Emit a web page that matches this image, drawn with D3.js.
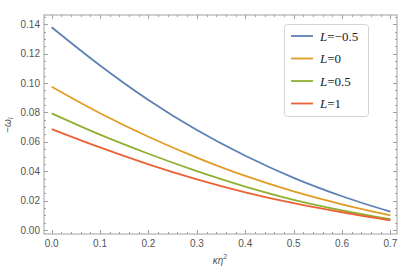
<!DOCTYPE html>
<html lang="en">
<head>
<meta charset="UTF-8">
<title>omega vs kappa eta^2</title>
<script src="https://cdn.jsdelivr.net/npm/d3@7"></script>
<style>
  body { margin: 0; background: #fff; }
  svg { display: block; }
</style>
</head>
<body>
<div id="chart"></div>
<script>
// data
const xValues = [0, 0.1, 0.2, 0.3, 0.4, 0.5, 0.6, 0.7];
const seriesNames = ["L=-0.5", "L=0", "L=0.5", "L=1"];
const legendValues = ["\u22120.5", "0", "0.5", "1"];
const blueVals   = [0.138, 0.112, 0.0885, 0.068, 0.0505, 0.0355, 0.023, 0.0125];
const orangeVals = [0.0975, 0.0795, 0.0635, 0.0493, 0.0368, 0.0263, 0.0175, 0.010];
const greenVals  = [0.0794, 0.0649, 0.0519, 0.0401, 0.0296, 0.0206, 0.0134, 0.0074];
const redVals    = [0.0687, 0.0562, 0.0447, 0.0345, 0.0257, 0.0183, 0.0121, 0.0066];
const colors = ["#5E81B5", "#E19C24", "#8FB032", "#EB6235"];
const xTicks = [0, 0.1, 0.2, 0.3, 0.4, 0.5, 0.6, 0.7];
const yTicks = [0, 0.02, 0.04, 0.06, 0.08, 0.10, 0.12, 0.14];

const allSeries = [blueVals, orangeVals, greenVals, redVals];

const width = 399, height = 271;
const frame = { left: 44, right: 397, top: 15, bottom: 234 };

const svg = d3.select("#chart").append("svg")
    .attr("width", width)
    .attr("height", height);

const x = d3.scaleLinear().domain([-0.0158, 0.7135]).range([frame.left, frame.right]);
const y = d3.scaleLinear().domain([-0.0027, 0.1463]).range([frame.bottom, frame.top]);

const frameColor = "#a0a0a0";
const labelColor = "#555";

// frame
svg.append("rect")
    .attr("x", frame.left).attr("y", frame.top)
    .attr("width", frame.right - frame.left)
    .attr("height", frame.bottom - frame.top)
    .attr("fill", "none")
    .attr("stroke", frameColor)
    .attr("stroke-width", 1);

// ticks (inward, on all four sides)
const xMinor = d3.range(0, 0.7001, 0.02).filter(v => xTicks.every(t => Math.abs(t - v) > 1e-6));
const yMinor = d3.range(0, 0.1451, 0.005).filter(v => yTicks.every(t => Math.abs(t - v) > 1e-6));

const ticks = svg.append("g").attr("stroke", frameColor).attr("stroke-width", 1);
const addX = (vals, len) => {
    vals.forEach(v => {
        const px = Math.round(x(v)) + 0.5;
        ticks.append("line").attr("x1", px).attr("x2", px)
            .attr("y1", frame.bottom).attr("y2", frame.bottom - len);
        ticks.append("line").attr("x1", px).attr("x2", px)
            .attr("y1", frame.top).attr("y2", frame.top + len);
    });
};
const addY = (vals, len) => {
    vals.forEach(v => {
        const py = Math.round(y(v)) + 0.5;
        ticks.append("line").attr("y1", py).attr("y2", py)
            .attr("x1", frame.left).attr("x2", frame.left + len);
        ticks.append("line").attr("y1", py).attr("y2", py)
            .attr("x1", frame.right).attr("x2", frame.right - len);
    });
};
addX(xTicks, 4); addX(xMinor, 2);
addY(yTicks, 4); addY(yMinor, 2);

// tick labels
svg.append("g").selectAll("text").data(xTicks).join("text")
    .attr("x", d => x(d))
    .attr("y", frame.bottom + 13)
    .attr("text-anchor", "middle")
    .attr("font-family", "Liberation Sans, Arial, sans-serif")
    .attr("font-size", 10)
    .attr("fill", labelColor)
    .text(d => d3.format(".1f")(d));

svg.append("g").selectAll("text").data(yTicks).join("text")
    .attr("x", frame.left - 4)
    .attr("y", d => y(d) + 3.5)
    .attr("text-anchor", "end")
    .attr("font-family", "Liberation Sans, Arial, sans-serif")
    .attr("font-size", 10)
    .attr("fill", labelColor)
    .text(d => d3.format(".2f")(d));

// axis labels
const ylab = svg.append("text")
    .attr("transform", "translate(11,125) rotate(-90)")
    .attr("text-anchor", "middle")
    .attr("font-family", "Liberation Sans, Arial, sans-serif")
    .attr("font-size", 10)
    .attr("fill", labelColor);
ylab.append("tspan").text("\u2212");
ylab.append("tspan").attr("font-style", "italic").text("\u03c9");
ylab.append("tspan").attr("font-style", "italic").attr("font-size", 7).attr("dy", 2).text("I");

const xlab = svg.append("text")
    .attr("x", 220).attr("y", 264)
    .attr("text-anchor", "middle")
    .attr("font-family", "Liberation Sans, Arial, sans-serif")
    .attr("font-size", 10)
    .attr("fill", labelColor);
xlab.append("tspan").attr("font-style", "italic").text("\u03ba\u03b7");
xlab.append("tspan").attr("font-size", 7).attr("dy", -5).text("2");

// curves
const line = d3.line()
    .x((d, i) => x(xValues[i]))
    .y(d => y(d))
    .curve(d3.curveCatmullRom);

svg.append("g").selectAll("path").data(allSeries).join("path")
    .attr("d", d => line(d))
    .attr("fill", "none")
    .attr("stroke", (d, i) => colors[i])
    .attr("stroke-width", 1.8);

// legend
const legend = svg.append("g");
legend.append("rect")
    .attr("x", 284.5).attr("y", 24.5)
    .attr("width", 84).attr("height", 92)
    .attr("rx", 3)
    .attr("fill", "#fff")
    .attr("stroke", "#d4d4d4");

const rows = legend.selectAll("g.row").data(seriesNames).join("g")
    .attr("class", "row")
    .attr("transform", (d, i) => `translate(0,${36 + i * 22.5})`);
rows.append("line")
    .attr("x1", 291).attr("x2", 313)
    .attr("stroke", (d, i) => colors[i])
    .attr("stroke-width", 1.8);
const lt = rows.append("text")
    .attr("x", 320).attr("y", 4.5)
    .attr("font-family", "Liberation Serif, Times New Roman, serif")
    .attr("font-size", 13)
    .attr("fill", "#222");
lt.append("tspan").attr("font-style", "italic").text("L");
lt.append("tspan").text((d, i) => "=" + legendValues[i]);
</script>
</body>
</html>
